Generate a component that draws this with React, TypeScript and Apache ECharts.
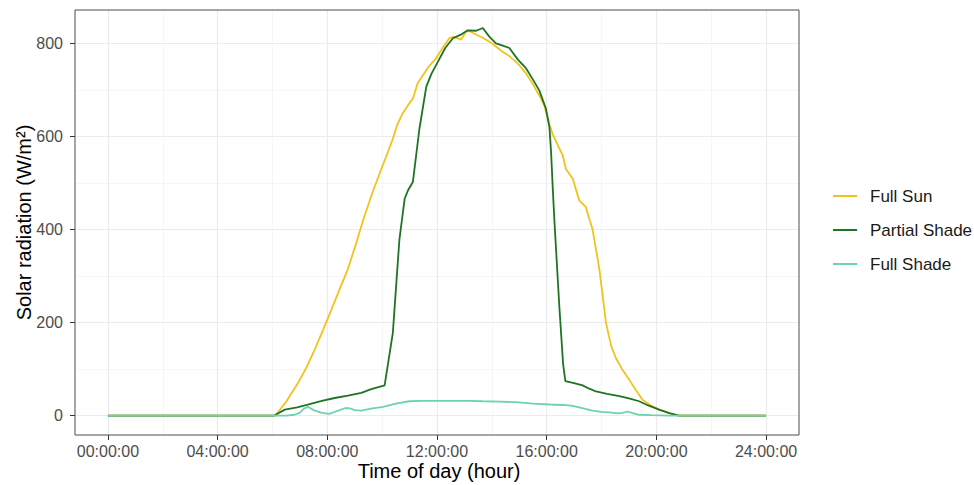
import React, { useEffect, useRef } from "react";
import * as echarts from "echarts";

// ---- data (hours of day, W/m²) ----
const sunHours = [0, 6.0, 6.1, 6.5, 6.93, 7.25, 7.54, 7.85, 8.15, 8.45, 8.75, 9.05, 9.36, 9.65, 9.97, 10.2, 10.39, 10.55, 10.75, 11.0, 11.12, 11.3, 11.48, 11.7, 11.97, 12.2, 12.45, 12.6, 12.88, 13.05, 13.2, 13.45, 13.67, 14.0, 14.39, 14.65, 14.88, 15.0, 15.25, 15.5, 15.73, 15.91, 16.1, 16.22, 16.46, 16.58, 16.7, 16.95, 17.19, 17.43, 17.55, 17.67, 17.92, 18.16, 18.35, 18.52, 18.75, 19.0, 19.25, 19.49, 19.8, 20.1, 20.5, 20.83, 24];
const sunValues = [0, 0, 0, 30, 70, 105, 142, 185, 228, 272, 315, 370, 430, 480, 530, 565, 595, 625, 650, 672, 681, 715, 731, 750, 768, 790, 811, 814, 808, 825, 826, 818, 812, 800, 782, 772, 760, 753, 735, 712, 688, 667, 625, 605, 574, 560, 530, 509, 462, 448, 423, 401, 315, 200, 150, 124, 100, 78, 55, 34, 22, 13, 5, 0, 0];

const partHours = [0, 6.05, 6.45, 6.9, 7.29, 7.8, 8.27, 8.75, 9.24, 9.6, 10.09, 10.39, 10.51, 10.63, 10.82, 10.95, 11.12, 11.36, 11.61, 11.8, 12.03, 12.3, 12.58, 12.85, 13.12, 13.43, 13.67, 13.9, 14.15, 14.4, 14.64, 14.95, 15.25, 15.5, 15.73, 15.97, 16.1, 16.16, 16.22, 16.28, 16.46, 16.6, 16.68, 17.0, 17.31, 17.55, 17.8, 18.2, 18.65, 19.0, 19.37, 19.7, 20.1, 20.5, 20.83, 24];
const partValues = [0, 0, 13, 18, 24, 32, 38, 43, 49, 57, 65, 178, 279, 379, 466, 485, 502, 617, 707, 735, 760, 790, 811, 818, 828, 827, 833, 815, 800, 795, 790, 765, 746, 722, 699, 660, 620, 566, 490, 420, 235, 110, 74, 70, 65, 58, 52, 47, 42, 37, 31, 22, 13, 5, 0, 0];

const shadeHours = [0, 6.5, 6.8, 6.99, 7.15, 7.29, 7.5, 7.8, 8.08, 8.35, 8.63, 8.81, 9.0, 9.24, 9.6, 10.03, 10.5, 11.0, 11.4, 11.85, 12.5, 13.2, 13.67, 14.3, 14.88, 15.5, 16.1, 16.6, 16.95, 17.3, 17.67, 18.0, 18.28, 18.6, 18.77, 18.95, 19.1, 19.37, 19.8, 20.47, 24];
const shadeValues = [0, 0, 2, 6, 15, 19, 12, 6, 4, 10, 16, 16, 12, 11, 15, 19, 26, 31, 32, 32, 32, 32, 31, 30, 29, 26, 24, 23, 21, 16, 11, 8, 7, 5, 6, 9, 6, 2, 1, 0, 0];

const seriesNames = ["Full Sun", "Partial Shade", "Full Shade"];
const seriesColors = ["#F2C31C", "#1F7424", "#6CD3B2"];
const xTickLabels = ["00:00:00", "04:00:00", "08:00:00", "12:00:00", "16:00:00", "20:00:00", "24:00:00"];
const yTickLabels = ["0", "200", "400", "600", "800"];
const xTitle = "Time of day (hour)";
const yTitle = "Solar radiation (W/m²)";

const zip = (h: number[], v: number[]) => h.map((x, i) => [x, v[i]]);

const FONT = "'Liberation Sans', Arial, Helvetica, sans-serif";

export default function App() {
  const ref = useRef<HTMLDivElement>(null);
  useEffect(() => {
    document.body.style.margin = "0";
    if (!ref.current) return;
    const chart = echarts.init(ref.current, null, { renderer: "svg" });
    const gridLine = { color: "#EBEBEB", width: 1.2 };
    const minorLine = { color: "#F2F2F2", width: 0.7 };
    const panel = { left: 75, top: 10, width: 724, height: 425 };
    const yMinData = -41.5;
    const yMaxData = 871.6;
    const y0 = panel.top + ((yMaxData - 0) / (yMaxData - yMinData)) * panel.height;
    const y800 = panel.top + ((yMaxData - 800) / (yMaxData - yMinData)) * panel.height;
    const xMinData = -1.2;
    const xMaxData = 25.2;
    const x0 = panel.left + ((0 - xMinData) / (xMaxData - xMinData)) * panel.width;
    const x24 = panel.left + ((24 - xMinData) / (xMaxData - xMinData)) * panel.width;

    const datasets = [zip(sunHours, sunValues), zip(partHours, partValues), zip(shadeHours, shadeValues)];

    chart.setOption({
      animation: false,
      backgroundColor: "#ffffff",
      textStyle: { fontFamily: FONT },
      grid: [
        { ...panel, show: true, borderColor: "#4D4D4D", borderWidth: 1, backgroundColor: "transparent", z: 3 },
        { left: x0, width: x24 - x0, top: panel.top, height: panel.height, show: false },
        { left: panel.left, width: panel.width, top: y800, height: y0 - y800, show: false },
      ],
      xAxis: [
        { gridIndex: 0, type: "value", min: xMinData, max: xMaxData, show: false },
        {
          gridIndex: 1, type: "value", min: 0, max: 24, interval: 4,
          axisLine: { show: false },
          axisTick: { show: true, length: 5, lineStyle: { color: "#333333", width: 1 } },
          axisLabel: {
            color: "#4D4D4D", fontSize: 16, margin: 8, fontFamily: FONT,
            formatter: (v: number) => xTickLabels[Math.round(v / 4)] ?? "",
          },
          splitLine: { show: true, lineStyle: gridLine },
          minorTick: { show: false, splitNumber: 2 },
          minorSplitLine: { show: true, lineStyle: minorLine },
        },
        { gridIndex: 2, type: "value", min: 0, max: 1, show: false },
      ],
      yAxis: [
        { gridIndex: 0, type: "value", min: yMinData, max: yMaxData, show: false },
        { gridIndex: 1, type: "value", min: 0, max: 1, show: false },
        {
          gridIndex: 2, type: "value", min: 0, max: 800, interval: 200,
          axisLine: { show: false },
          axisTick: { show: true, length: 5, lineStyle: { color: "#333333", width: 1 } },
          axisLabel: {
            color: "#4D4D4D", fontSize: 16, margin: 12, fontFamily: FONT,
            formatter: (v: number) => yTickLabels[Math.round(v / 200)] ?? "",
          },
          splitLine: { show: true, lineStyle: gridLine },
          minorTick: { show: false, splitNumber: 2 },
          minorSplitLine: { show: true, lineStyle: minorLine },
        },
      ],
      legend: {
        orient: "vertical",
        left: 828,
        top: 196 - 8.5 - 5,
        itemWidth: 24,
        itemHeight: 17,
        itemGap: 17,
        icon: "path://M0,8 L24,8 L24,10 L0,10 Z",
        data: seriesNames,
        textStyle: { fontSize: 17, color: "#1A1A1A", fontFamily: FONT, padding: [0, 0, 0, 8] },
      },
      series: seriesNames.map((name, i) => ({
        name,
        type: "line",
        xAxisIndex: 0,
        yAxisIndex: 0,
        data: datasets[i],
        symbol: "none",
        showSymbol: false,
        color: seriesColors[i],
        lineStyle: { color: seriesColors[i], width: 1.8 },
        itemStyle: { color: seriesColors[i] },
        z: 5 + i,
      })),
      graphic: [
        {
          type: "text",
          x: panel.left + panel.width / 2 + 2,
          y: 471,
          style: { text: xTitle, fill: "#000000", fontSize: 20, fontFamily: FONT, align: "center", verticalAlign: "middle" },
        },
        {
          type: "text",
          x: 23.5,
          y: panel.top + panel.height / 2,
          rotation: Math.PI / 2,
          style: { text: yTitle, fill: "#000000", fontSize: 20, fontFamily: FONT, align: "center", verticalAlign: "middle" },
        },
      ],
    });
    return () => chart.dispose();
  }, []);
  return <div ref={ref} style={{ width: 974, height: 485 }} />;
}
